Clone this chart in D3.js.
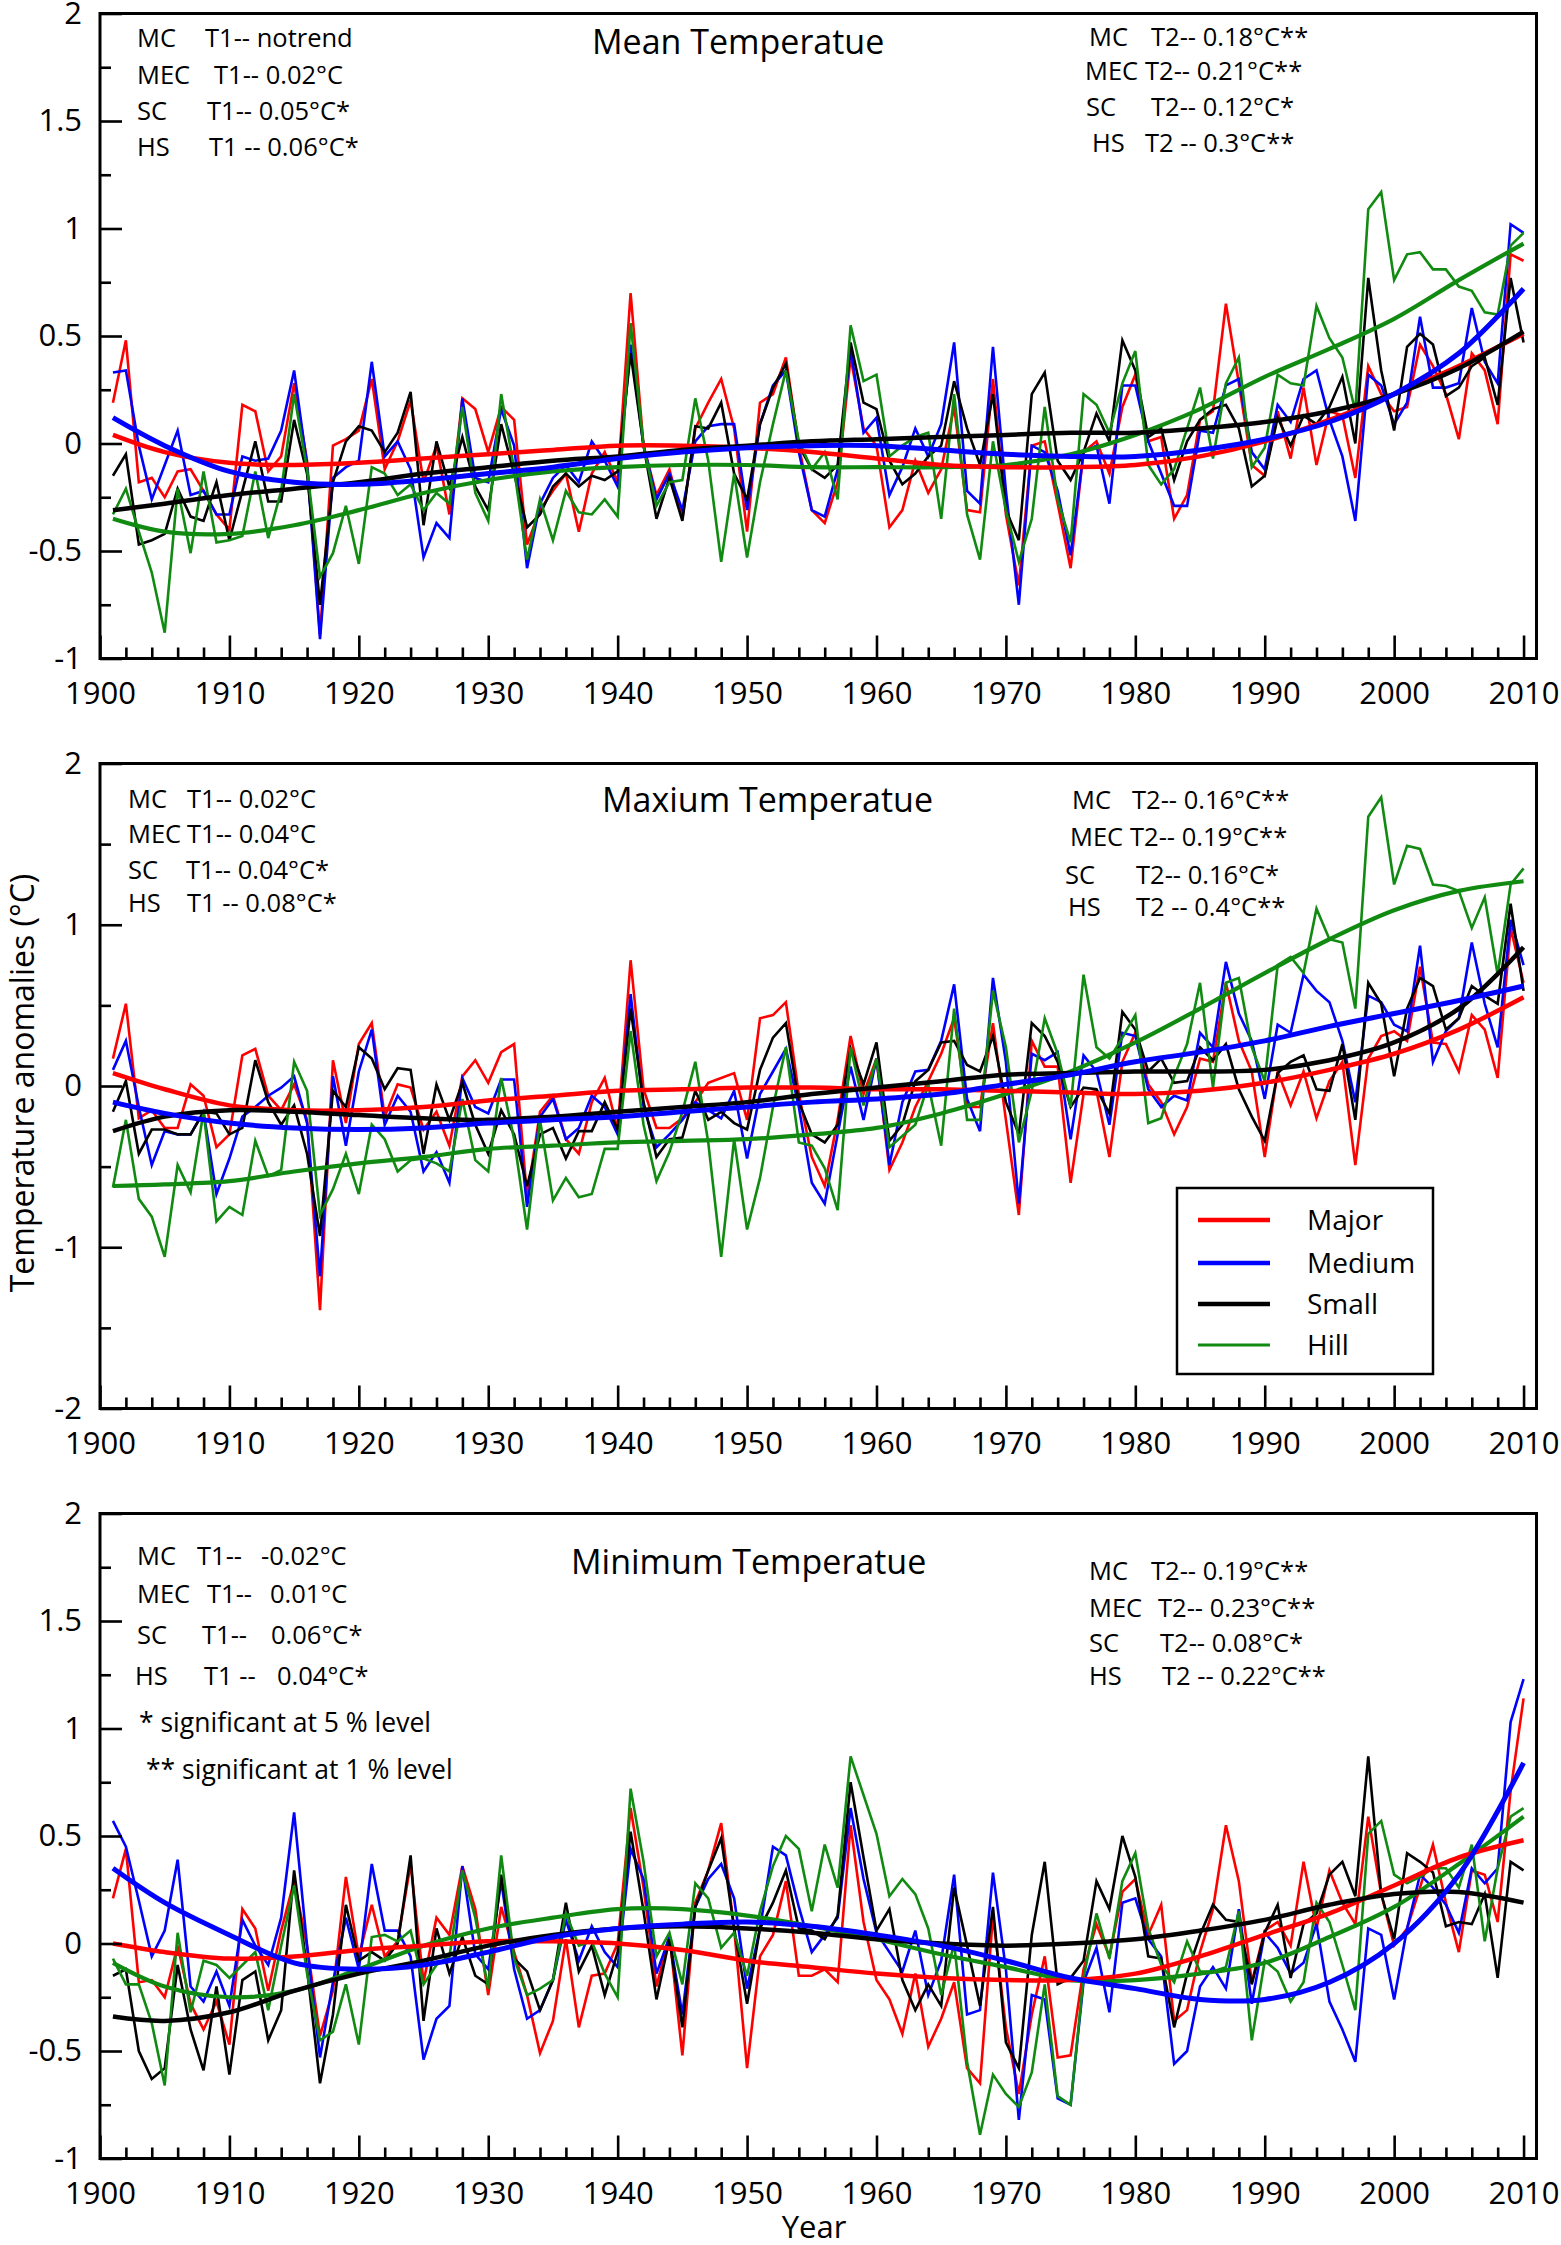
<!DOCTYPE html>
<html>
<head>
<meta charset="utf-8">
<script src="https://cdn.jsdelivr.net/npm/d3@7/dist/d3.min.js"></script>
<style>
  body { margin: 0; background: #fff; }
  text { font-family: "Open Sans", "Noto Sans", sans-serif; fill: #000; }
</style>
</head>
<body>
<div id="chart"></div>
<script>
// years on the x axis, one value per year 1901-2010
const years = d3.range(1901, 2011);
const trendYears = [1901,1905,1910,1915,1920,1925,1930,1935,1940,1945,1950,1955,1960,1965,1970,1975,1980,1985,1990,1995,2000,2005,2010];

const seriesNames = ["Major", "Medium", "Small", "Hill"];

// ---- Mean temperature anomalies
const meanMajor = [0.19,0.48,-0.18,-0.16,-0.25,-0.13,-0.12,-0.22,-0.33,-0.40,0.18,0.15,-0.13,-0.06,0.28,-0.08,-0.89,-0.01,0.02,0.06,0.30,-0.12,0.01,0.20,-0.18,-0.01,-0.33,0.21,0.16,-0.04,0.17,0.11,-0.47,-0.31,-0.22,-0.14,-0.41,-0.14,-0.04,-0.18,0.70,-0.01,-0.24,-0.12,-0.35,0.07,0.19,0.30,0.07,-0.41,0.19,0.23,0.40,-0.01,-0.31,-0.37,-0.18,0.40,0.07,-0.01,-0.39,-0.31,-0.08,-0.23,-0.12,0.17,-0.31,-0.32,0.30,-0.33,-0.66,-0.01,0.01,-0.28,-0.58,-0.04,0.01,-0.14,0.17,0.32,0.01,0.03,-0.35,-0.24,0.11,0.15,0.65,0.28,-0.10,-0.15,0.15,-0.07,0.26,-0.10,0.15,0.13,-0.16,0.36,0.23,0.15,0.17,0.46,0.36,0.23,0.02,0.42,0.34,0.09,0.88,0.85];
const meanMedium = [0.33,0.34,-0.01,-0.26,-0.10,0.06,-0.24,-0.22,-0.33,-0.33,-0.06,-0.08,-0.07,0.06,0.34,-0.10,-0.91,-0.16,-0.11,-0.08,0.38,-0.06,0.01,-0.12,-0.53,-0.37,-0.44,0.21,-0.16,-0.18,0.16,-0.01,-0.58,-0.28,-0.16,-0.10,-0.18,0.01,-0.08,-0.20,0.46,-0.01,-0.26,-0.14,-0.31,0.01,0.08,0.09,0.09,-0.31,0.09,0.27,0.34,-0.04,-0.31,-0.34,-0.12,0.44,0.05,0.12,-0.24,-0.11,0.07,-0.06,0.09,0.47,-0.22,-0.28,0.45,-0.22,-0.75,-0.01,-0.04,-0.22,-0.52,-0.04,-0.01,-0.28,0.27,0.27,0.01,-0.14,-0.29,-0.29,0.06,0.05,0.27,0.30,-0.04,-0.12,0.18,0.10,0.30,0.34,0.11,-0.06,-0.36,0.32,0.27,0.09,0.19,0.59,0.26,0.26,0.28,0.63,0.38,0.28,1.02,0.98];
const meanSmall = [-0.15,-0.05,-0.47,-0.45,-0.42,-0.21,-0.34,-0.36,-0.18,-0.45,-0.22,0.01,-0.27,-0.27,0.11,-0.14,-0.75,-0.18,0.01,0.08,0.06,-0.04,0.05,0.24,-0.38,0.01,-0.20,0.03,-0.20,-0.31,0.09,-0.14,-0.39,-0.33,-0.20,-0.14,-0.20,-0.15,-0.17,-0.13,0.42,-0.01,-0.35,-0.16,-0.36,0.08,0.07,0.19,-0.14,-0.26,0.09,0.26,0.37,-0.01,-0.12,-0.16,-0.10,0.47,0.19,0.16,-0.08,-0.19,-0.14,-0.06,-0.01,0.29,0.07,-0.10,0.23,-0.31,-0.45,0.23,0.33,-0.08,-0.17,-0.04,0.14,0.01,0.48,0.34,0.03,0.07,-0.17,0.01,0.11,0.16,0.18,0.07,-0.20,-0.15,0.12,-0.01,0.13,0.09,0.17,0.31,0.00,0.77,0.34,0.06,0.45,0.51,0.46,0.22,0.26,0.36,0.40,0.18,0.77,0.47];
const meanHill = [-0.33,-0.21,-0.41,-0.60,-0.88,-0.21,-0.51,-0.13,-0.46,-0.45,-0.43,-0.13,-0.44,-0.22,0.23,-0.12,-0.62,-0.51,-0.29,-0.56,-0.11,-0.14,-0.24,-0.19,-0.31,-0.23,-0.28,0.17,-0.23,-0.36,0.23,-0.12,-0.54,-0.26,-0.45,-0.22,-0.32,-0.33,-0.26,-0.34,0.56,-0.01,-0.29,-0.18,-0.17,0.21,-0.08,-0.55,-0.14,-0.53,-0.18,0.09,0.34,0.01,-0.12,-0.04,-0.26,0.55,0.29,0.32,-0.06,-0.01,0.03,0.05,-0.35,0.23,-0.33,-0.54,0.01,-0.31,-0.55,-0.35,0.17,-0.26,-0.46,0.23,0.18,0.05,0.28,0.43,-0.10,-0.19,-0.12,0.07,0.26,-0.07,0.28,0.40,-0.11,-0.02,0.32,0.28,0.27,0.64,0.49,0.40,0.15,1.09,1.17,0.76,0.88,0.89,0.81,0.81,0.73,0.71,0.61,0.60,0.92,0.98];
const meanTrendMajor = [0.04,-0.04,-0.09,-0.10,-0.09,-0.07,-0.05,-0.03,-0.01,-0.01,-0.02,-0.04,-0.07,-0.10,-0.11,-0.11,-0.10,-0.06,0.01,0.11,0.23,0.36,0.51];
const meanTrendMedium = [0.12,-0.01,-0.13,-0.18,-0.19,-0.17,-0.14,-0.11,-0.07,-0.04,-0.02,-0.01,-0.01,-0.03,-0.05,-0.06,-0.06,-0.03,0.02,0.10,0.23,0.42,0.72];
const meanTrendSmall = [-0.31,-0.28,-0.24,-0.21,-0.18,-0.14,-0.11,-0.08,-0.06,-0.03,-0.01,0.01,0.02,0.03,0.04,0.05,0.05,0.07,0.10,0.15,0.23,0.35,0.52];
const meanTrendHill = [-0.35,-0.41,-0.42,-0.38,-0.31,-0.23,-0.17,-0.13,-0.11,-0.10,-0.10,-0.11,-0.11,-0.11,-0.10,-0.05,0.04,0.16,0.31,0.44,0.58,0.76,0.93];

// ---- Maximum temperature anomalies
const maxMajor = [0.17,0.51,-0.20,-0.15,-0.26,-0.26,0.01,-0.06,-0.38,-0.30,0.19,0.23,-0.06,-0.15,0.01,-0.21,-1.39,0.16,-0.23,0.26,0.39,-0.19,0.01,-0.01,-0.27,-0.16,-0.37,0.06,0.16,0.02,0.21,0.26,-0.69,-0.16,-0.06,-0.33,-0.42,-0.10,0.05,-0.27,0.78,-0.02,-0.26,-0.26,-0.20,-0.10,0.02,0.05,0.08,-0.21,0.42,0.44,0.52,-0.05,-0.44,-0.62,-0.21,0.31,-0.05,0.17,-0.52,-0.35,-0.13,0.03,0.20,0.42,-0.13,-0.13,0.39,-0.21,-0.80,0.28,0.12,0.12,-0.60,-0.05,-0.03,-0.44,0.15,0.33,0.01,-0.10,-0.30,-0.13,0.17,0.15,0.64,0.28,0.09,-0.44,0.09,-0.12,0.09,-0.20,0.03,0.15,-0.49,0.17,0.31,0.34,0.28,0.74,0.27,0.26,0.09,0.44,0.35,0.05,0.98,0.64];
const maxMedium = [0.10,0.28,-0.13,-0.49,-0.28,-0.30,-0.30,-0.16,-0.67,-0.45,-0.19,-0.13,-0.06,-0.01,0.06,-0.23,-1.18,0.06,-0.37,0.09,0.35,-0.24,-0.06,-0.16,-0.53,-0.41,-0.60,0.05,-0.13,-0.17,0.04,0.04,-0.75,-0.19,-0.08,-0.33,-0.26,-0.06,-0.13,-0.30,0.57,-0.13,-0.38,-0.30,-0.21,-0.10,-0.15,-0.20,-0.03,-0.45,-0.05,0.09,0.23,-0.13,-0.60,-0.73,-0.30,0.12,-0.21,0.17,-0.49,-0.10,0.09,0.10,0.28,0.63,-0.08,-0.28,0.67,0.15,-0.73,0.20,0.16,0.21,-0.33,0.19,0.09,-0.24,0.33,0.31,-0.02,-0.13,-0.06,-0.09,0.33,0.24,0.77,0.45,0.28,-0.08,0.38,0.33,0.69,0.59,0.52,0.28,-0.10,0.56,0.52,0.38,0.34,0.87,0.15,0.34,0.42,0.89,0.51,0.24,1.03,0.75];
const maxSmall = [-0.16,0.03,-0.42,-0.27,-0.27,-0.30,-0.30,-0.16,-0.17,-0.30,-0.26,0.16,-0.10,-0.24,-0.12,-0.42,-0.93,-0.03,-0.13,0.24,0.17,-0.02,0.11,0.10,-0.42,0.01,-0.21,0.02,-0.24,-0.42,-0.15,-0.30,-0.62,-0.30,-0.26,-0.45,-0.28,-0.28,-0.10,-0.27,0.48,-0.10,-0.44,-0.33,-0.32,-0.03,-0.21,-0.16,-0.23,-0.27,0.10,0.30,0.39,-0.10,-0.30,-0.35,-0.24,0.23,0.01,0.27,-0.34,-0.24,0.03,0.10,0.27,0.28,0.13,0.09,0.31,-0.10,-0.30,0.39,0.31,0.15,-0.13,-0.01,-0.02,-0.17,0.46,0.35,0.09,0.17,0.02,0.03,0.24,0.16,0.26,-0.02,-0.19,-0.34,0.08,0.15,0.19,-0.02,-0.03,0.26,-0.21,0.64,0.51,0.06,0.48,0.67,0.62,0.35,0.42,0.62,0.56,0.51,1.13,0.59];
const maxHill = [-0.63,-0.21,-0.70,-0.81,-1.06,-0.49,-0.66,-0.16,-0.84,-0.75,-0.80,-0.34,-0.56,-0.52,0.15,-0.03,-0.80,-0.64,-0.42,-0.67,-0.24,-0.33,-0.53,-0.46,-0.45,-0.48,-0.53,-0.08,-0.46,-0.53,0.05,-0.33,-0.89,-0.21,-0.71,-0.57,-0.69,-0.67,-0.39,-0.39,0.34,-0.24,-0.59,-0.41,-0.16,0.15,-0.35,-1.06,-0.33,-0.89,-0.57,-0.13,0.24,-0.35,-0.37,-0.51,-0.77,0.24,-0.12,0.17,-0.38,-0.31,-0.24,0.01,-0.37,0.48,-0.21,-0.21,0.59,0.24,-0.35,-0.03,0.42,0.20,-0.13,0.69,0.24,0.17,0.30,0.44,-0.23,-0.20,0.06,0.26,0.64,-0.01,0.64,0.67,0.24,0.03,0.75,0.80,0.70,1.10,0.91,0.89,0.48,1.67,1.79,1.25,1.49,1.47,1.25,1.24,1.21,0.98,1.17,0.69,1.25,1.35];
const maxTrendMajor = [0.08,-0.02,-0.12,-0.15,-0.15,-0.13,-0.09,-0.06,-0.03,-0.02,-0.01,-0.01,-0.02,-0.02,-0.03,-0.04,-0.05,-0.03,0.02,0.10,0.20,0.35,0.55];
const maxTrendMedium = [-0.10,-0.17,-0.23,-0.26,-0.27,-0.26,-0.23,-0.21,-0.19,-0.16,-0.13,-0.10,-0.08,-0.05,0.01,0.07,0.15,0.21,0.28,0.37,0.45,0.53,0.62];
const maxTrendSmall = [-0.28,-0.19,-0.15,-0.16,-0.18,-0.20,-0.21,-0.19,-0.16,-0.13,-0.10,-0.05,-0.01,0.03,0.07,0.08,0.09,0.09,0.10,0.16,0.27,0.48,0.86];
const maxTrendHill = [-0.62,-0.61,-0.59,-0.53,-0.48,-0.44,-0.39,-0.37,-0.35,-0.34,-0.33,-0.30,-0.26,-0.17,-0.05,0.09,0.27,0.48,0.70,0.91,1.09,1.21,1.27];

// ---- Minimum temperature anomalies
const minMajor = [0.21,0.44,-0.18,-0.17,-0.25,-0.01,-0.28,-0.40,-0.27,-0.47,0.16,0.07,-0.22,0.06,0.29,-0.01,-0.43,-0.22,0.31,-0.06,0.18,-0.06,0.01,0.37,-0.18,0.12,0.04,0.36,0.16,-0.24,0.17,-0.04,-0.24,-0.51,-0.36,0.02,-0.39,-0.15,-0.14,0.00,0.63,0.26,-0.20,0.04,-0.52,0.19,0.34,0.56,0.07,-0.58,-0.06,0.04,0.29,-0.15,-0.15,-0.12,-0.18,0.55,0.10,-0.17,-0.26,-0.42,-0.14,-0.48,-0.35,-0.18,-0.58,-0.65,0.13,-0.39,-0.70,-0.33,-0.06,-0.53,-0.52,-0.12,0.09,-0.06,0.24,0.30,0.04,0.18,-0.36,-0.31,-0.04,0.16,0.55,0.29,-0.18,0.06,0.10,-0.01,0.38,0.07,0.34,0.19,0.09,0.59,0.23,-0.01,0.07,0.26,0.46,0.19,-0.04,0.34,0.32,0.10,0.71,1.14];
const minMedium = [0.57,0.45,0.20,-0.06,0.06,0.39,-0.20,-0.27,-0.13,-0.29,0.11,-0.01,-0.10,0.12,0.61,-0.01,-0.53,-0.18,0.12,-0.12,0.37,0.06,0.06,-0.06,-0.54,-0.35,-0.29,0.36,-0.05,-0.12,0.29,-0.12,-0.35,-0.31,-0.17,0.11,-0.08,0.08,-0.04,-0.11,0.44,0.30,-0.14,0.03,-0.33,0.17,0.30,0.37,0.21,-0.21,0.07,0.45,0.41,0.17,-0.04,0.04,0.12,0.63,0.30,0.05,-0.04,-0.13,0.06,-0.24,-0.08,0.32,-0.33,-0.31,0.33,-0.12,-0.82,-0.24,-0.26,-0.72,-0.75,-0.18,-0.02,-0.32,0.19,0.21,0.02,-0.06,-0.56,-0.50,-0.20,-0.11,-0.21,0.16,-0.28,0.05,-0.02,-0.14,-0.09,0.09,-0.27,-0.40,-0.55,0.07,0.04,-0.26,0.07,0.32,0.26,0.18,0.05,0.35,0.28,0.35,1.03,1.23];
const minSmall = [-0.15,-0.12,-0.50,-0.63,-0.58,-0.10,-0.40,-0.59,-0.20,-0.61,-0.17,-0.13,-0.45,-0.31,0.34,-0.12,-0.65,-0.33,0.18,-0.08,-0.04,-0.08,0.00,0.41,-0.36,0.07,-0.14,0.03,-0.15,-0.19,0.32,-0.07,-0.13,-0.31,-0.17,0.19,-0.13,-0.01,-0.24,-0.04,0.52,0.15,-0.26,0.02,-0.39,0.17,0.34,0.49,0.07,-0.28,0.07,0.19,0.34,0.07,0.06,0.02,0.13,0.75,0.40,0.06,0.16,-0.17,-0.31,-0.19,-0.29,0.26,-0.01,-0.29,0.17,-0.46,-0.58,0.04,0.38,-0.19,-0.16,-0.08,0.29,0.16,0.50,0.31,-0.06,-0.07,-0.39,-0.14,0.04,0.18,0.11,0.10,-0.19,0.05,0.18,-0.16,0.09,0.14,0.32,0.38,0.22,0.87,0.23,0.02,0.42,0.38,0.33,0.08,0.10,0.09,0.23,-0.16,0.38,0.34];
const minHill = [-0.07,-0.19,-0.19,-0.37,-0.66,0.05,-0.32,-0.08,-0.10,-0.16,-0.10,-0.04,-0.31,-0.01,0.27,-0.14,-0.45,-0.41,-0.19,-0.47,0.03,0.04,0.01,0.06,-0.19,-0.10,-0.06,0.34,0.12,-0.21,0.41,-0.07,-0.24,-0.21,-0.17,0.14,-0.01,0.01,-0.14,-0.25,0.72,0.38,-0.06,0.05,-0.19,0.28,0.21,-0.02,0.05,-0.15,0.15,0.36,0.50,0.44,0.15,0.46,0.26,0.87,0.69,0.51,0.22,0.30,0.23,0.07,-0.24,0.00,-0.55,-0.89,-0.61,-0.70,-0.76,-0.60,-0.19,-0.71,-0.75,-0.16,0.14,-0.07,0.29,0.42,0.07,-0.10,-0.18,0.01,-0.13,-0.13,-0.11,0.15,-0.45,-0.08,-0.13,-0.27,-0.18,0.19,0.10,-0.10,-0.31,0.51,0.57,0.32,0.28,0.31,0.35,0.35,0.26,0.46,0.01,0.35,0.59,0.63];
const minTrendMajor = [0.00,-0.04,-0.07,-0.06,-0.03,-0.01,0.01,0.01,0.00,-0.03,-0.08,-0.11,-0.14,-0.16,-0.17,-0.17,-0.14,-0.06,0.04,0.14,0.27,0.40,0.48];
const minTrendMedium = [0.35,0.19,0.04,-0.09,-0.12,-0.10,-0.04,0.03,0.07,0.09,0.10,0.08,0.04,-0.01,-0.08,-0.16,-0.21,-0.26,-0.26,-0.18,0.00,0.32,0.84];
const minTrendSmall = [-0.34,-0.36,-0.32,-0.22,-0.14,-0.08,-0.01,0.04,0.07,0.08,0.07,0.05,0.02,0.00,-0.01,0.00,0.02,0.06,0.11,0.18,0.23,0.24,0.19];
const minTrendHill = [-0.09,-0.20,-0.25,-0.22,-0.12,-0.01,0.07,0.12,0.16,0.16,0.13,0.08,0.02,-0.05,-0.11,-0.17,-0.17,-0.14,-0.09,0.03,0.17,0.37,0.59];

// ---- annotation texts
const meanNotesLeft = [["MC", "T1-- notrend"], ["MEC", "T1-- 0.02°C"], ["SC", "T1-- 0.05°C*"], ["HS", "T1 -- 0.06°C*"]];
const meanNotesRight = [["MC", "T2-- 0.18°C**"], ["MEC", "T2-- 0.21°C**"], ["SC", "T2-- 0.12°C*"], ["HS", "T2 -- 0.3°C**"]];
const maxNotesLeft = [["MC", "T1-- 0.02°C"], ["MEC", "T1-- 0.04°C"], ["SC", "T1-- 0.04°C*"], ["HS", "T1 -- 0.08°C*"]];
const maxNotesRight = [["MC", "T2-- 0.16°C**"], ["MEC", "T2-- 0.19°C**"], ["SC", "T2-- 0.16°C*"], ["HS", "T2 -- 0.4°C**"]];
const minNotesLeft = [["MC", "T1--", "-0.02°C"], ["MEC", "T1--", "0.01°C"], ["SC", "T1--", "0.06°C*"], ["HS", "T1 --", "0.04°C*"]];
const minNotesRight = [["MC", "T2-- 0.19°C**"], ["MEC", "T2-- 0.23°C**"], ["SC", "T2-- 0.08°C*"], ["HS", "T2 -- 0.22°C**"]];
const sigNotes = ["* significant at 5 % level", "** significant at 1 % level"];

const colors = ["#ff0000", "#0000ff", "#000000", "#118a11"];
const trendWidths = [4.5, 5, 4.5, 4.2];

const W = 1561, H = 2245;
const plotLeft = 100, plotRight = 1536.5;

const panels = [
  {
    title: "Mean Temperatue", titleX: 592, titleY: 54,
    domain: [-1, 2], top: 13.5, bottom: 658.5, minorStep: 0.25, labelStep: 0.5,
    data: [meanMajor, meanMedium, meanSmall, meanHill],
    trends: [meanTrendMajor, meanTrendMedium, meanTrendSmall, meanTrendHill],
    left: meanNotesLeft, leftX: [[137, 205], [137, 214], [137, 207], [137, 209]], leftY: [47, 84, 120, 156],
    right: meanNotesRight, rightX: [[1089, 1151], [1085, 1145], [1086, 1151], [1092, 1145]], rightY: [46, 80, 116, 152]
  },
  {
    title: "Maxium Temperatue", titleX: 602, titleY: 812,
    domain: [-2, 2], top: 763.5, bottom: 1408.5, minorStep: 0.5, labelStep: 1,
    data: [maxMajor, maxMedium, maxSmall, maxHill],
    trends: [maxTrendMajor, maxTrendMedium, maxTrendSmall, maxTrendHill],
    left: maxNotesLeft, leftX: [[128, 187], [128, 187], [128, 186], [128, 187]], leftY: [808, 843, 879, 912],
    right: maxNotesRight, rightX: [[1072, 1132], [1070, 1130], [1065, 1136], [1068, 1136]], rightY: [809, 846, 884, 916],
    legend: true
  },
  {
    title: "Minimum Temperatue", titleX: 571, titleY: 1574,
    domain: [-1, 2], top: 1513.5, bottom: 2158.5, minorStep: 0.25, labelStep: 0.5,
    data: [minMajor, minMedium, minSmall, minHill],
    trends: [minTrendMajor, minTrendMedium, minTrendSmall, minTrendHill],
    left: minNotesLeft, leftX: [[137, 197, 261], [137, 207, 270], [137, 202, 271], [135, 204, 277]], leftY: [1565, 1603, 1644, 1685],
    right: minNotesRight, rightX: [[1089, 1151], [1089, 1158], [1089, 1160], [1089, 1162]], rightY: [1580, 1617, 1652, 1685],
    sig: sigNotes, sigX: [139, 146], sigY: [1732, 1779]
  }
];

const svg = d3.select("#chart").append("svg")
    .attr("width", W)
    .attr("height", H);

const x = d3.scaleLinear().domain([1900, 2011]).range([plotLeft, plotRight]);

const decadeTicks = d3.range(1900, 2011, 10);
const minorYearTicks = d3.range(1902, 2011, 2).filter(d => d % 10 !== 0);

panels.forEach(function(p) {
    const y = d3.scaleLinear().domain(p.domain).range([p.bottom, p.top]);
    const g = svg.append("g");

    // yearly series
    const line = d3.line()
        .x((d, i) => x(years[i]))
        .y(d => y(d));

    g.selectAll(".series")
        .data(p.data)
        .join("path")
        .attr("class", "series")
        .attr("fill", "none")
        .attr("stroke", (d, i) => colors[i])
        .attr("stroke-width", 2.6)
        .attr("stroke-linejoin", "miter")
        .attr("d", line);

    // smooth trend curves
    const trendLine = d3.line()
        .x((d, i) => x(trendYears[i]))
        .y(d => y(d))
        .curve(d3.curveCatmullRom.alpha(0.5));

    const trendOrder = [3, 0, 2, 1];
    g.selectAll(".trend")
        .data(trendOrder)
        .join("path")
        .attr("class", "trend")
        .attr("fill", "none")
        .attr("stroke", i => colors[i])
        .attr("stroke-width", i => trendWidths[i])
        .attr("d", i => trendLine(p.trends[i]));

    // x axis: decades long, every 2 years short, ticks inward
    const xMinor = g.append("g")
        .attr("transform", `translate(0,${p.bottom})`)
        .call(d3.axisBottom(x).tickValues(minorYearTicks).tickSize(-11).tickFormat(""));
    const xMajor = g.append("g")
        .attr("transform", `translate(0,${p.bottom})`)
        .call(d3.axisBottom(x).tickValues(decadeTicks).tickSize(-23).tickPadding(23).tickFormat(d3.format("d")));

    // y axis: labelled ticks long, others short
    const yAll = d3.range(p.domain[0], p.domain[1] + 0.001, p.minorStep).map(v => +v.toFixed(2));
    const isLabel = v => Math.abs(v / p.labelStep - Math.round(v / p.labelStep)) < 1e-6;
    const yMinor = g.append("g")
        .attr("transform", `translate(${plotLeft},0)`)
        .call(d3.axisLeft(y).tickValues(yAll.filter(v => !isLabel(v))).tickSize(-11).tickFormat(""));
    const yMajor = g.append("g")
        .attr("transform", `translate(${plotLeft},0)`)
        .call(d3.axisLeft(y).tickValues(yAll.filter(isLabel)).tickSize(-22).tickPadding(18).tickFormat(v => String(v)));

    [xMinor, xMajor, yMinor, yMajor].forEach(a => {
        a.select(".domain").remove();
        a.selectAll("line").attr("stroke", "#000").attr("stroke-width", 2.6);
        a.selectAll("text")
            .attr("font-family", '"Open Sans", "Noto Sans", sans-serif')
            .attr("font-size", 31)
            .attr("fill", "#000");
    });

    // frame
    g.append("rect")
        .attr("x", plotLeft)
        .attr("y", p.top)
        .attr("width", plotRight - plotLeft)
        .attr("height", p.bottom - p.top)
        .attr("fill", "none")
        .attr("stroke", "#000")
        .attr("stroke-width", 3);

    // title
    g.append("text")
        .attr("x", p.titleX)
        .attr("y", p.titleY)
        .attr("font-size", 34)
        .text(p.title);

    // trend notes
    function notes(rows, xs, ys) {
        rows.forEach(function(row, r) {
            const t = g.append("text").attr("y", ys[r]).attr("font-size", 25.5);
            row.forEach(function(part, k) {
                t.append("tspan").attr("x", xs[r][k]).text(part);
            });
        });
    }
    notes(p.left, p.leftX, p.leftY);
    notes(p.right, p.rightX, p.rightY);

    if (p.sig) {
        p.sig.forEach(function(s, k) {
            g.append("text")
                .attr("x", p.sigX[k])
                .attr("y", p.sigY[k])
                .attr("font-size", 26.5)
                .text(s);
        });
    }

    // legend
    if (p.legend) {
        const lg = g.append("g");
        lg.append("rect")
            .attr("x", 1177).attr("y", 1188)
            .attr("width", 256).attr("height", 186)
            .attr("fill", "#fff")
            .attr("stroke", "#000")
            .attr("stroke-width", 2.5);
        const rowY = [1220, 1263, 1304, 1345];
        seriesNames.forEach(function(name, i) {
            lg.append("line")
                .attr("x1", 1198).attr("x2", 1270)
                .attr("y1", rowY[i]).attr("y2", rowY[i])
                .attr("stroke", colors[i])
                .attr("stroke-width", i === 3 ? 3 : 4.5);
            lg.append("text")
                .attr("x", 1307)
                .attr("y", rowY[i])
                .attr("dy", "0.36em")
                .attr("font-size", 28)
                .text(name);
        });
    }
});

// axis titles
svg.append("text")
    .attr("transform", "translate(21,1083) rotate(-90)")
    .attr("text-anchor", "middle")
    .attr("dominant-baseline", "central")
    .attr("font-size", 32)
    .text("Temperature anomalies (°C)");

svg.append("text")
    .attr("x", 814)
    .attr("y", 2238)
    .attr("text-anchor", "middle")
    .attr("font-size", 31)
    .text("Year");
</script>
</body>
</html>
